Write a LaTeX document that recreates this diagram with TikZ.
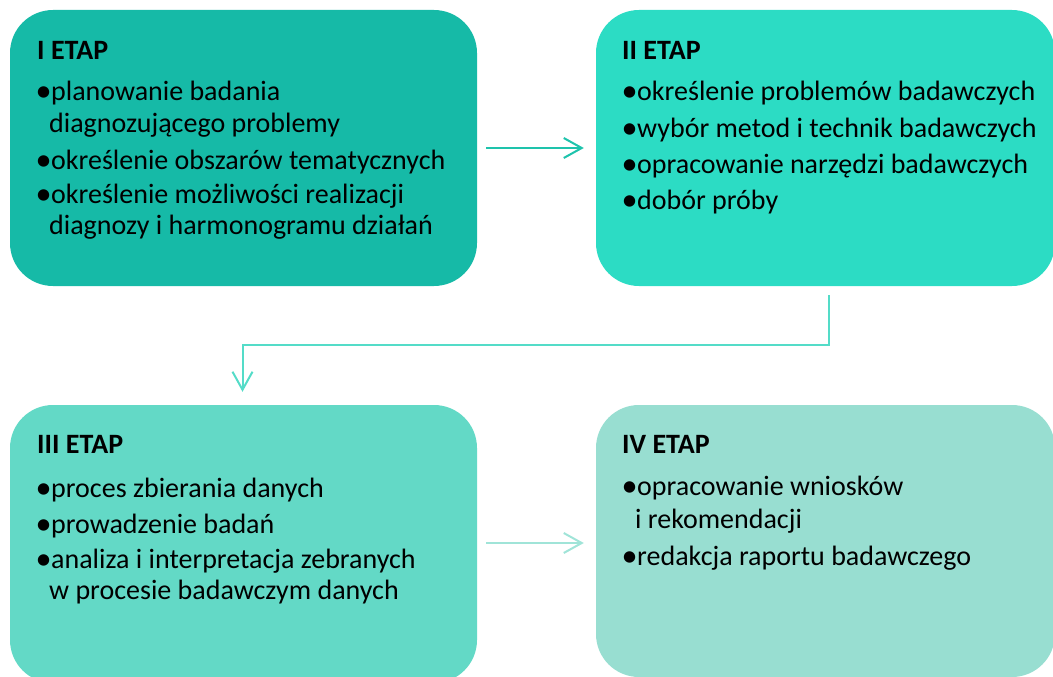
\documentclass[tikz,border=0pt]{standalone}
\usepackage{fontspec}
\setmainfont{Carlito}
\usetikzlibrary{arrows.meta}
\definecolor{cI}{RGB}{22,186,167}
\definecolor{cII}{RGB}{44,220,196}
\definecolor{cIII}{RGB}{99,217,198}
\definecolor{cIV}{RGB}{152,222,209}
\definecolor{aI}{RGB}{30,195,172}
\definecolor{aII}{RGB}{84,220,200}
\definecolor{aIII}{RGB}{160,228,216}
\newcommand\bul{\makebox[14pt][l]{\hspace{-1.5pt}\raisebox{-1.5pt}{\scalebox{1.15}{•}}}}
\tikzset{
  stage/.style={rectangle, rounded corners=43pt, draw=none, inner sep=0pt},
  txt/.style={inner sep=0pt, anchor=base west, font=\fontsize{28}{33}\selectfont},
  head/.style={txt, font=\fontsize{28}{33}\selectfont\bfseries},
  arr/.style={line width=2pt, -{Straight Barb[length=18pt,width=20pt,line width=2pt]}}
}
\begin{document}
\begin{tikzpicture}[x=1pt,y=-1pt]
\useasboundingbox (0,0) rectangle (1053,677);
\clip (0,0) rectangle (1053,677);
% boxes
\node[stage, fill=cI, minimum width=467pt, minimum height=276pt] (b1) at (243.5,148) {};
\node[stage, fill=cII, minimum width=459pt, minimum height=276pt] (b2) at (825.5,148) {};
\node[stage, fill=cIII, minimum width=467pt, minimum height=278pt] (b3) at (243.5,544) {};
\node[stage, fill=cIV, minimum width=459pt, minimum height=272pt] (b4) at (825.5,541) {};
% box I text
\node[head] (t1h) at (37,60) {I ETAP};
\node[txt] (t1a) at (37,100) {\bul planowanie badania};
\node[txt] (t1b) at (49,132) {diagnozującego problemy};
\node[txt] (t1c) at (37,169) {\bul określenie obszarów tematycznych};
\node[txt] (t1d) at (37,203) {\bul określenie możliwości realizacji};
\node[txt] (t1e) at (49,234) {diagnozy i harmonogramu działań};
% box II text
\node[head] (t2h) at (622,60) {II ETAP};
\node[txt] (t2a) at (623,100) {\bul określenie problemów badawczych};
\node[txt] (t2b) at (623,137) {\bul wybór metod i technik badawczych};
\node[txt] (t2c) at (623,173) {\bul opracowanie narzędzi badawczych};
\node[txt] (t2d) at (623,209) {\bul dobór próby};
% box III text
\node[head] (t3h) at (37,453) {III ETAP};
\node[txt] (t3a) at (37,497) {\bul proces zbierania danych};
\node[txt] (t3b) at (37,533) {\bul prowadzenie badań};
\node[txt] (t3c) at (37,568) {\bul analiza i interpretacja zebranych};
\node[txt] (t3d) at (49,599) {w procesie badawczym danych};
% box IV text
\node[head] (t4h) at (622,453) {IV ETAP};
\node[txt] (t4a) at (623,495) {\bul opracowanie wniosków};
\node[txt] (t4b) at (635,528) {i rekomendacji};
\node[txt] (t4c) at (623,565) {\bul redakcja raportu badawczego};
% connectors
\draw[arr, draw=aI] ([xshift=9pt]b1.east) -- ([xshift=-12pt]b2.west);
\draw[arr, draw=aII] ([xshift=3pt,yshift=-9pt]b2.south) -- ++(0,50) -| ([xshift=-1pt,yshift=13pt]b3.north);
\draw[arr, draw=aIII] ([xshift=9pt,yshift=1pt]b3.east) -- ([xshift=-12pt,yshift=1pt]b3.east -| b4.west);
\end{tikzpicture}
\end{document}
